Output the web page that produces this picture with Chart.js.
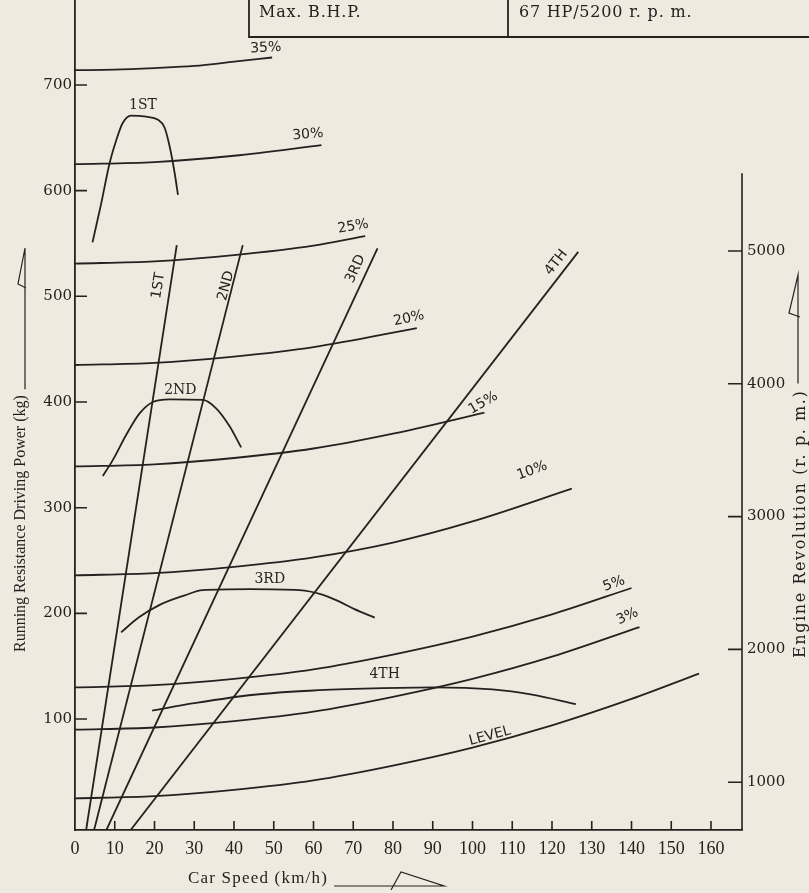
<!DOCTYPE html>
<html>
<head>
<meta charset="utf-8">
<script src="https://cdn.jsdelivr.net/npm/chart.js@4.4.1/dist/chart.umd.min.js"></script>
<style>
  html, body { margin: 0; padding: 0; background: #efeae0; }
  canvas { display: block; }
</style>
</head>
<body>
<canvas id="myChart" width="809" height="893"></canvas>
<script>
// tick labels
const speedTicks = [0, 10, 20, 30, 40, 50, 60, 70, 80, 90, 100, 110, 120, 130, 140, 150, 160];
const kgTicks = [100, 200, 300, 400, 500, 600, 700];
const rpmTicks = [1000, 2000, 3000, 4000, 5000];

// running resistance on gradients: car speed (km/h) -> kg
const levelSpeed = [0, 20, 40, 60, 80, 100, 120, 140, 157];
const levelKg = [25, 27, 33, 42, 56, 73, 94, 119, 143];
const g3Speed = [0, 20, 40, 60, 80, 100, 120, 142];
const g3Kg = [90, 92, 98, 107, 121, 138, 159, 187];
const g5Speed = [0, 20, 40, 60, 80, 100, 120, 140];
const g5Kg = [130, 132, 138, 147, 161, 178, 199, 224];
const g10Speed = [0, 20, 40, 60, 80, 100, 125];
const g10Kg = [236, 238, 244, 253, 267, 287, 318];
const g15Speed = [0, 20, 40, 60, 80, 103];
const g15Kg = [339, 341, 347, 356, 370, 390];
const g20Speed = [0, 20, 40, 60, 86];
const g20Kg = [435, 437, 443, 452, 470];
const g25Speed = [0, 20, 40, 60, 73];
const g25Kg = [531, 533, 539, 548, 557];
const g30Speed = [0, 20, 40, 62];
const g30Kg = [625, 627, 633, 643];
const g35Speed = [0, 10, 20, 30, 40, 49.6];
const g35Kg = [714, 714.5, 716, 718, 722, 726];

// driving power in each gear: car speed (km/h) -> kg
const p1Speed = [4.4, 6.6, 8.7, 10.4, 12.0, 14.1, 17.9, 20.9, 22.5, 23.8, 25.1, 25.9];
const p1Kg = [551, 588, 626, 648, 664, 671, 670, 667, 660, 642, 616, 596];
const p2Speed = [7.0, 9.5, 12.9, 16.2, 19.6, 23.8, 32.2, 35.5, 38.9, 41.8];
const p2Kg = [330, 345, 369, 389, 400, 402.5, 402, 394, 377, 357];
const p3Speed = [11.6, 16, 21.3, 27.6, 32.1, 44, 56.5, 62, 66, 70.3, 75.4];
const p3Kg = [182, 196, 208, 217, 222, 223, 222, 218, 212, 204, 196];
const p4Speed = [19.4, 30, 45, 60, 75, 90, 105, 115, 126];
const p4Kg = [108, 115, 123, 127, 129, 130, 128, 123, 114];

// engine revolution in each gear: car speed (km/h) -> r.p.m.
const r1Speed = [2.8, 25.6];
const r2Speed = [4.8, 42.2];
const r3Speed = [7.9, 76.1];
const r4Speed = [14.0, 126.6];
const r1Rpm = [640, 5044];
const r2Rpm = [640, 5044];
const r3Rpm = [640, 5019];
const r4Rpm = [640, 4993];

const ink = '#242220';
const paper = '#efeae0';

function pts(xs, ys) {
    return xs.map((v, i) => ({ x: v, y: ys[i] }));
}
function curve(xs, ys, axis) {
    return {
        data: pts(xs, ys),
        yAxisID: axis || 'y',
        borderColor: ink,
        borderWidth: 1.8,
        pointRadius: 0,
        cubicInterpolationMode: 'monotone',
        fill: false
    };
}

// curve captions: text, anchor in data units, rotation (deg)
const sansTag = '14px "DejaVu Sans"';
const serifTag = '14px "DejaVu Serif"';
const tags = [
    { text: '35%', x: 48, y: 735, rot: -3, font: sansTag },
    { text: '30%', x: 58.6, y: 653, rot: -5, font: sansTag },
    { text: '25%', x: 70, y: 566, rot: -10, font: sansTag },
    { text: '20%', x: 84, y: 479, rot: -12, font: sansTag },
    { text: '15%', x: 102.7, y: 399, rot: -30, font: sansTag },
    { text: '10%', x: 115, y: 335, rot: -20, font: sansTag },
    { text: '5%', x: 135.6, y: 228, rot: -20, font: sansTag },
    { text: '3%', x: 139, y: 197, rot: -25, font: sansTag },
    { text: 'LEVEL', x: 104.4, y: 84, rot: -15, font: sansTag },
    { text: '1ST', x: 17.1, y: 681, rot: 0, font: serifTag },
    { text: '2ND', x: 26.5, y: 411, rot: 0, font: serifTag },
    { text: '3RD', x: 49, y: 232, rot: 0, font: serifTag },
    { text: '4TH', x: 77.9, y: 142, rot: 0, font: serifTag },
    { text: '1ST', x: 21, y: 510, rot: -81, font: sansTag },
    { text: '2ND', x: 38, y: 510, rot: -75, font: sansTag },
    { text: '3RD', x: 70.6, y: 526, rot: -65, font: sansTag },
    { text: '4TH', x: 121.1, y: 532, rot: -52, font: sansTag }
];

const rpmAxisTop = 5586;

const decor = {
    id: 'decor',
    beforeDraw(chart) {
        const ctx = chart.ctx;
        ctx.save();
        ctx.fillStyle = paper;
        ctx.fillRect(0, 0, chart.width, chart.height);
        ctx.restore();
    },
    afterDraw(chart) {
        const ctx = chart.ctx;
        const { x, y, y2 } = chart.scales;
        ctx.save();
        ctx.strokeStyle = ink;
        ctx.fillStyle = ink;
        ctx.lineWidth = 1.6;

        // tick marks point into the plot
        ctx.beginPath();
        x.ticks.forEach(t => {
            if (t.value === 0) return;
            const px = x.getPixelForValue(t.value);
            ctx.moveTo(px, x.top);
            ctx.lineTo(px, x.top - 9);
        });
        y.ticks.forEach(t => {
            const py = y.getPixelForValue(t.value);
            ctx.moveTo(y.right, py);
            ctx.lineTo(y.right + 12, py);
        });
        y2.ticks.forEach(t => {
            const py = y2.getPixelForValue(t.value);
            ctx.moveTo(y2.left, py);
            ctx.lineTo(y2.left - 14, py);
        });
        // right axis stops short of the top
        ctx.moveTo(y2.left, y2.bottom);
        ctx.lineTo(y2.left, y2.getPixelForValue(rpmAxisTop));
        ctx.stroke();

        // curve captions
        ctx.textAlign = 'center';
        ctx.textBaseline = 'middle';
        tags.forEach(t => {
            ctx.save();
            ctx.translate(x.getPixelForValue(t.x), y.getPixelForValue(t.y));
            ctx.rotate(t.rot * Math.PI / 180);
            ctx.font = t.font;
            ctx.fillText(t.text, 0, 0);
            ctx.restore();
        });

        // left axis title with its little flag
        ctx.font = '16px "Liberation Serif"';
        ctx.textAlign = 'left';
        let w = ctx.measureText('Running Resistance Driving Power (kg)').width;
        ctx.save();
        ctx.translate(21, 652);
        ctx.rotate(-Math.PI / 2);
        ctx.fillText('Running Resistance Driving Power (kg)', 0, 0);
        ctx.restore();
        ctx.lineWidth = 1.2;
        ctx.beginPath();
        ctx.moveTo(25, 652 - w - 6);
        ctx.lineTo(25, 248);
        ctx.lineTo(18, 284);
        ctx.lineTo(26, 288);
        ctx.stroke();

        // right axis title
        ctx.font = '16px "DejaVu Serif"';
        ctx.letterSpacing = '1.6px';
        w = ctx.measureText('Engine Revolution (r. p. m.)').width;
        ctx.save();
        ctx.translate(801, 658);
        ctx.rotate(-Math.PI / 2);
        ctx.fillText('Engine Revolution (r. p. m.)', 0, 0);
        ctx.restore();
        ctx.letterSpacing = '0px';
        ctx.beginPath();
        ctx.moveTo(798, 658 - w - 6);
        ctx.lineTo(798, 275);
        ctx.lineTo(789, 313);
        ctx.lineTo(800, 317);
        ctx.stroke();

        // bottom axis title
        ctx.font = '17px "Liberation Serif"';
        ctx.letterSpacing = '1.2px';
        ctx.fillText('Car Speed (km/h)', 188, 879);
        w = ctx.measureText('Car Speed (km/h)').width;
        ctx.letterSpacing = '0px';
        ctx.beginPath();
        ctx.moveTo(188 + w + 6, 886);
        ctx.lineTo(444, 886);
        ctx.lineTo(401, 872);
        ctx.lineTo(391, 890);
        ctx.stroke();

        // spec table cut at the top edge
        ctx.lineWidth = 1.8;
        ctx.beginPath();
        ctx.moveTo(249, 0);
        ctx.lineTo(249, 37);
        ctx.lineTo(809, 37);
        ctx.moveTo(508, 0);
        ctx.lineTo(508, 37);
        ctx.stroke();
        ctx.font = '16px "DejaVu Serif"';
        ctx.letterSpacing = '0.8px';
        ctx.fillText('Max. B.H.P.', 259, 13);
        ctx.fillText('67 HP/5200 r. p. m.', 519, 13);
        ctx.restore();
    }
};

const ctx = document.getElementById('myChart').getContext('2d');
new Chart(ctx, {
    type: 'line',
    data: {
        datasets: [
            curve(g35Speed, g35Kg), curve(g30Speed, g30Kg), curve(g25Speed, g25Kg),
            curve(g20Speed, g20Kg), curve(g15Speed, g15Kg), curve(g10Speed, g10Kg),
            curve(g5Speed, g5Kg), curve(g3Speed, g3Kg), curve(levelSpeed, levelKg),
            curve(p1Speed, p1Kg), curve(p2Speed, p2Kg), curve(p3Speed, p3Kg), curve(p4Speed, p4Kg),
            curve(r1Speed, r1Rpm, 'y2'), curve(r2Speed, r2Rpm, 'y2'),
            curve(r3Speed, r3Rpm, 'y2'), curve(r4Speed, r4Rpm, 'y2')
        ]
    },
    options: {
        responsive: false,
        devicePixelRatio: 1,
        animation: false,
        layout: { padding: 0 },
        plugins: { legend: { display: false }, tooltip: { enabled: false } },
        scales: {
            x: {
                type: 'linear',
                min: 0,
                max: 167.8,
                afterBuildTicks: s => { s.ticks = speedTicks.map(v => ({ value: v })); },
                afterFit: s => { s.height = 63; s.paddingLeft = 0; s.paddingRight = 0; },
                grid: { drawOnChartArea: false, drawTicks: false, color: 'rgba(0,0,0,0)' },
                border: { color: ink, width: 1.8 },
                ticks: { color: ink, padding: 8, maxRotation: 0, autoSkip: false, font: { family: 'Liberation Serif', size: 18 } }
            },
            y: {
                type: 'linear',
                position: 'left',
                min: -5,
                max: 780.4,
                afterBuildTicks: s => { s.ticks = kgTicks.map(v => ({ value: v })); },
                afterFit: s => { s.width = 75; s.paddingTop = 0; s.paddingBottom = 0; },
                grid: { drawOnChartArea: false, drawTicks: false, color: 'rgba(0,0,0,0)' },
                border: { color: ink, width: 1.8 },
                ticks: { color: ink, padding: 3, font: { family: 'DejaVu Serif', size: 15 } }
            },
            y2: {
                type: 'linear',
                position: 'right',
                min: 640,
                max: 6890,
                afterBuildTicks: s => { s.ticks = rpmTicks.map(v => ({ value: v })); },
                afterFit: s => { s.width = 67; s.paddingTop = 0; s.paddingBottom = 0; },
                grid: { drawOnChartArea: false, drawTicks: false, color: 'rgba(0,0,0,0)' },
                border: { display: false },
                ticks: { color: ink, padding: 5, callback: v => String(v), font: { family: 'DejaVu Serif', size: 15 } }
            }
        }
    },
    plugins: [decor]
});
</script>
</body>
</html>
